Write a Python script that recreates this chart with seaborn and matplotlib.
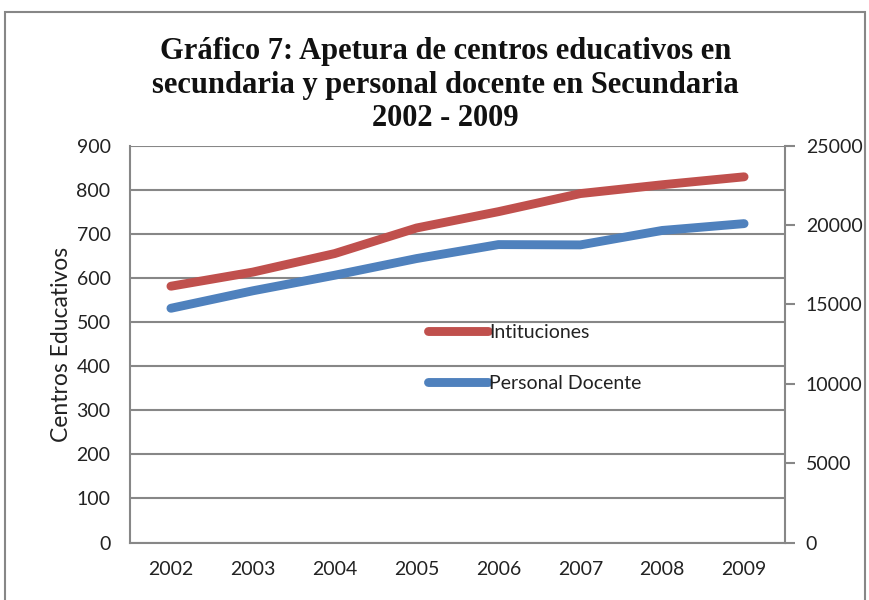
import matplotlib
matplotlib.use("Agg")
import matplotlib.pyplot as plt
import seaborn as sns
import pandas as pd
from matplotlib.patches import Rectangle
from matplotlib.lines import Line2D

years = ["2002", "2003", "2004", "2005", "2006", "2007", "2008", "2009"]
instituciones = [581, 613, 655, 713, 750, 791, 811, 829]
personal_docente = [14750, 15850, 16830, 17880, 18760, 18740, 19650, 20080]
left_ticks = [0, 100, 200, 300, 400, 500, 600, 700, 800, 900]
right_ticks = [0, 5000, 10000, 15000, 20000, 25000]

sns.set_style("white")
plt.rcParams["font.family"] = ["Lato", "DejaVu Sans"]

red = "#C0504D"
blue = "#4F81BD"
gray = "#878787"

df = pd.DataFrame({"x": range(len(years)), "inst": instituciones, "doc": personal_docente})

fig = plt.figure(figsize=(8.7, 6.0), dpi=100)
ax = fig.add_axes([130 / 870, 1 - 542.5 / 600, (785 - 130) / 870, (542.5 - 145.5) / 600])
ax2 = ax.twinx()

sns.lineplot(data=df, x="x", y="inst", ax=ax, color=red, linewidth=6.4,
             solid_capstyle="round", legend=False)
sns.lineplot(data=df, x="x", y="doc", ax=ax2, color=blue, linewidth=6.4,
             solid_capstyle="round", legend=False)

ax.set_xlim(-0.5, len(years) - 0.5)
ax.set_ylim(0, 900)
ax2.set_ylim(0, 25000)
ax.set_xticks(range(len(years)))
ax.set_xticklabels(years)
ax.set_yticks(left_ticks)
ax2.set_yticks(right_ticks)

for a in (ax, ax2):
    for s in a.spines.values():
        s.set_visible(False)
ax.grid(axis="y", color=gray, linewidth=1.5)
ax.set_axisbelow(True)
ax2.grid(False)
ax.spines["left"].set_visible(True)
ax.spines["left"].set_color(gray)
ax.spines["left"].set_linewidth(1.5)
ax.spines["bottom"].set_visible(True)
ax.spines["bottom"].set_color(gray)
ax.spines["bottom"].set_linewidth(1.5)
ax2.spines["right"].set_visible(True)
ax2.spines["right"].set_color(gray)
ax2.spines["right"].set_linewidth(1.5)

ax.tick_params(axis="y", length=0, pad=14, labelsize=14, labelcolor="#222222")
ax.tick_params(axis="x", length=0, pad=13, labelsize=14, labelcolor="#222222")
ax2.tick_params(axis="y", length=7, width=1.5, color=gray, pad=8, labelsize=14,
                labelcolor="#222222", direction="out")
ax.set_xlabel("")
ax2.set_ylabel("")
ax.set_ylabel("Centros Educativos", fontsize=16.5, color="#222222", labelpad=3)

handles = [Line2D([], [], color=red, linewidth=6.4, solid_capstyle="round"),
           Line2D([], [], color=blue, linewidth=6.4, solid_capstyle="round")]
leg = ax.legend(handles, ["Intituciones", "Personal Docente"], loc="upper left",
                bbox_to_anchor=(428 / 870, 1 - 324 / 600), bbox_transform=fig.transFigure,
                frameon=False, fontsize=14, handlelength=3.1, handletextpad=0.05,
                labelspacing=1.75, borderpad=0, borderaxespad=0)
for t in leg.get_texts():
    t.set_color("#222222")

title = ("Gráfico 7: Apetura de centros educativos en\n"
         "secundaria y personal docente en Secundaria\n"
         "2002 - 2009")
fig.text(0.512, 1 - 85 / 600, title, ha="center", va="center", fontsize=22,
         fontweight="bold", family=["Liberation Serif", "DejaVu Serif"],
         linespacing=1.2, color="#111111")

fig.patches.append(Rectangle((5 / 870, -0.05), 860 / 870, 1 - 12 / 600 + 0.05,
                             transform=fig.transFigure, fill=False,
                             edgecolor=gray, linewidth=1.5))

fig.savefig("out.png", dpi=100)
